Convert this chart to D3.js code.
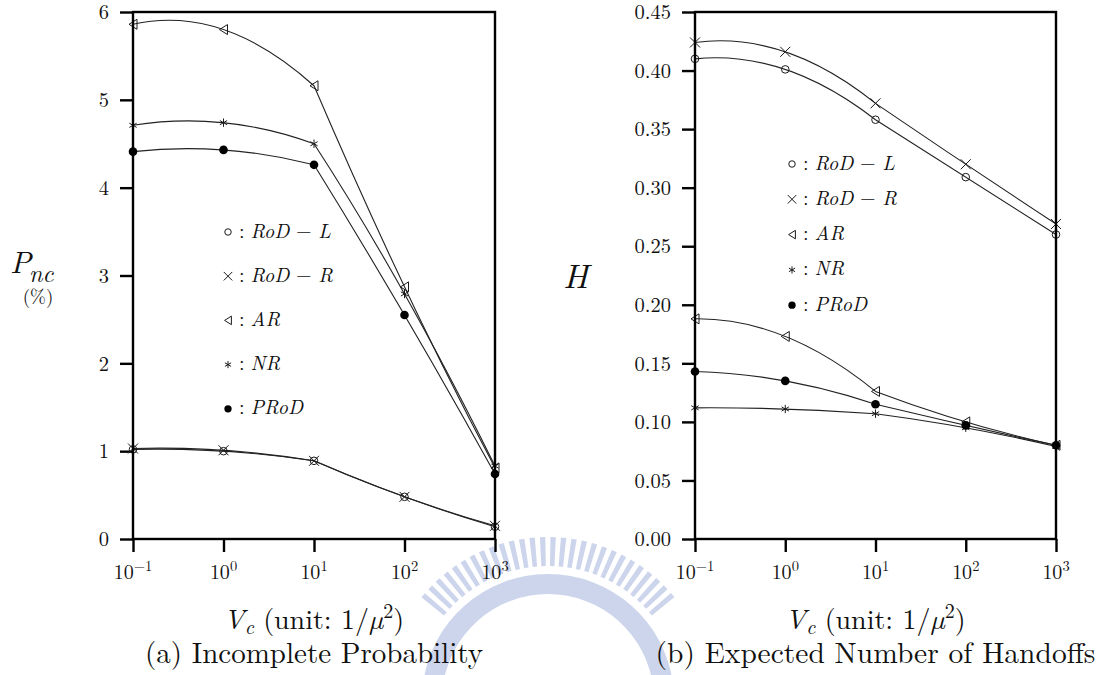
<!DOCTYPE html>
<html>
<head>
<meta charset="utf-8">
<script src="https://cdn.jsdelivr.net/npm/d3@7/dist/d3.min.js"></script>
<style>
  html, body { margin: 0; padding: 0; background: #fff; }
  svg { display: block; }
</style>
</head>
<body>
<svg id="chart" width="1102" height="675"></svg>
<script>
// Velocity-variance settings on the x axis (log scale)
const vc = [0.1, 1, 10, 100, 1000];
const xTickExp = ["\u22121", "0", "1", "2", "3"];

// (a) Incomplete probability P_nc (%)
const pncRodL = [1.02, 1.00, 0.89, 0.48, 0.14];
const pncRodR = [1.03, 1.01, 0.89, 0.48, 0.15];
const pncAR   = [5.86, 5.80, 5.16, 2.87, 0.81];
const pncNR   = [4.71, 4.74, 4.50, 2.79, 0.83];
const pncPRoD = [4.41, 4.43, 4.26, 2.55, 0.74];
const pncTicks = [0, 1, 2, 3, 4, 5, 6];

// (b) Expected number of handoffs H
const hRodL = [0.410, 0.401, 0.358, 0.309, 0.260];
const hRodR = [0.424, 0.416, 0.372, 0.320, 0.269];
const hAR   = [0.188, 0.173, 0.126, 0.100, 0.080];
const hNR   = [0.112, 0.111, 0.107, 0.095, 0.079];
const hPRoD = [0.143, 0.135, 0.115, 0.097, 0.080];
const hTicks = [0, 0.05, 0.10, 0.15, 0.20, 0.25, 0.30, 0.35, 0.40, 0.45];

// Scheme names for the legend: [italic name, optional italic suffix after a minus]
const schemeNames = [["RoD", "L"], ["RoD", "R"], ["AR"], ["NR"], ["PRoD"]];
const schemeMarkers = ["circle", "cross", "triangle", "star", "dot"];

const FONT = '"Latin Modern Roman", "Liberation Serif", serif';
const INK = "#1a1a1a";

const svg = d3.select("#chart");
svg.append("rect").attr("width", 1102).attr("height", 675).attr("fill", "#fff");

// Pale university seal printed behind the captions
const seal = svg.append("g").attr("transform", "translate(548,700)").attr("fill", "#cdd5ec");
const barArc = d3.arc().innerRadius(134).outerRadius(163);
for (let a = -50; a <= 50; a += 3.7) {
  seal.append("path").attr("d", barArc({ startAngle: (a - 0.95) * Math.PI / 180, endAngle: (a + 0.95) * Math.PI / 180 }));
}
seal.append("path").attr("d", d3.arc().innerRadius(106).outerRadius(126)({ startAngle: -1.45, endAngle: 1.45 }));

// Piecewise parabola through consecutive point triples (quadratic Bezier segments)
function QuadThrough(context) { this._context = context; }
QuadThrough.prototype = {
  areaStart() {}, areaEnd() {},
  lineStart() { this._pts = []; },
  point(x, y) { this._pts.push([+x, +y]); },
  lineEnd() {
    const p = this._pts, c = this._context;
    if (!p.length) return;
    c.moveTo(p[0][0], p[0][1]);
    let i = 0;
    while (i + 2 < p.length) {
      const a = p[i], b = p[i + 1], d = p[i + 2];
      c.quadraticCurveTo(2 * b[0] - (a[0] + d[0]) / 2, 2 * b[1] - (a[1] + d[1]) / 2, d[0], d[1]);
      i += 2;
    }
    if (i + 1 < p.length) c.lineTo(p[i + 1][0], p[i + 1][1]);
  }
};
const curveQuad = ctx => new QuadThrough(ctx);

function txt(g, x, y, size) {
  return g.append("text").attr("x", x).attr("y", y)
    .style("font-family", FONT).style("font-size", size + "px").attr("fill", "#111");
}

// Marker glyphs
function drawMarker(g, type, cx, cy, s) {
  const k = s || 1;
  if (type === "circle") {
    g.append("circle").attr("cx", cx).attr("cy", cy).attr("r", 3.8 * k)
      .attr("fill", "none").attr("stroke", INK).attr("stroke-width", 1);
  } else if (type === "cross") {
    const r = 5 * k;
    g.append("path")
      .attr("d", `M${cx - r},${cy - r}L${cx + r},${cy + r}M${cx - r},${cy + r}L${cx + r},${cy - r}`)
      .attr("stroke", INK).attr("stroke-width", 1).attr("fill", "none");
  } else if (type === "triangle") {
    const w = 8 * k, h = 5 * k;
    g.append("path")
      .attr("d", `M${cx - w / 2},${cy}L${cx + w / 2},${cy - h}L${cx + w / 2},${cy + h}Z`)
      .attr("stroke", INK).attr("stroke-width", 1).attr("fill", "none");
  } else if (type === "star") {
    const r = 4.2 * k;
    let d = "";
    for (let i = 0; i < 3; i++) {
      const a = Math.PI / 2 + i * Math.PI / 3;
      d += `M${cx + r * Math.cos(a)},${cy - r * Math.sin(a)}L${cx - r * Math.cos(a)},${cy + r * Math.sin(a)}`;
    }
    g.append("path").attr("d", d).attr("stroke", INK).attr("stroke-width", 1).attr("fill", "none");
  } else if (type === "dot") {
    g.append("circle").attr("cx", cx).attr("cy", cy).attr("r", 4.3 * k).attr("fill", "#000");
  }
}

function drawPanel(cfg) {
  const g = svg.append("g");
  const x = d3.scaleLog().domain([0.1, 1000]).range([cfg.left, cfg.right]);
  const y = d3.scaleLinear().domain([0, cfg.yMax]).range([cfg.bottom, cfg.top]);

  // y axis: outward ticks, labels right-aligned
  const ya = g.append("g").attr("transform", `translate(${cfg.left},0)`)
    .call(d3.axisLeft(y).tickValues(cfg.yTicks).tickSize(13).tickPadding(11)
      .tickFormat(cfg.yFormat));
  ya.select(".domain").remove();
  ya.selectAll(".tick line").attr("stroke", "#000").attr("stroke-width", 2.4);
  ya.selectAll(".tick text").style("font-family", FONT).style("font-size", "20.5px")
    .attr("fill", "#111").attr("dy", "0.33em");

  // x axis: outward ticks
  const xa = g.append("g").attr("transform", `translate(0,${cfg.bottom})`)
    .call(d3.axisBottom(x).tickValues(vc).tickSize(13).tickFormat(""));
  xa.select(".domain").remove();
  xa.selectAll(".tick line").attr("stroke", "#000").attr("stroke-width", 2.4);

  // x tick labels as powers of ten
  vc.forEach((v, i) => {
    const t = txt(g, x(v), cfg.bottom + 40, 20).attr("text-anchor", "middle");
    t.append("tspan").text("10");
    t.append("tspan").style("font-size", "14.5px").attr("dy", -8).text(xTickExp[i]);
  });

  // data curves
  const line = d3.line().x(d => x(d[0])).y(d => y(d[1])).curve(curveQuad);
  cfg.series.forEach(s => {
    const pts = vc.map((v, i) => [v, s.values[i]]);
    g.append("path").datum(pts).attr("d", line)
      .attr("fill", "none").attr("stroke", "#222").attr("stroke-width", 1.1);
  });
  cfg.series.forEach(s => {
    vc.forEach((v, i) => drawMarker(g, s.marker, x(v), y(s.values[i])));
  });

  // frame
  g.append("rect").attr("x", cfg.left).attr("y", cfg.top)
    .attr("width", cfg.right - cfg.left).attr("height", cfg.bottom - cfg.top)
    .attr("fill", "none").attr("stroke", "#000").attr("stroke-width", 2.4);

  // legend
  schemeNames.forEach((nm, i) => {
    const ly = cfg.legY + i * cfg.legStep;
    drawMarker(g, schemeMarkers[i], cfg.legX, ly, 0.85);
    const t = txt(g, cfg.legX + 11, ly + 5.5, 20);
    t.append("tspan").text(":");
    t.append("tspan").attr("dx", 6).style("font-style", "italic").text(nm[0]);
    if (nm.length > 1) {
      t.append("tspan").text(" \u2212 ");
      t.append("tspan").style("font-style", "italic").text(nm[1]);
    }
  });

  // x axis title and caption
  const cx = (cfg.left + cfg.right) / 2;
  const xt = txt(g, cx, 629, 28).attr("text-anchor", "middle");
  xt.append("tspan").style("font-style", "italic").text("V");
  xt.append("tspan").style("font-style", "italic").style("font-size", "20px").attr("dy", 5).text("c");
  xt.append("tspan").attr("dy", -5).text(" (unit: 1/");
  xt.append("tspan").style("font-style", "italic").text("\u00b5");
  xt.append("tspan").style("font-size", "20px").attr("dy", -11).text("2");
  xt.append("tspan").attr("dy", 11).text(")");

  txt(g, cx, 663, cfg.captionSize).attr("text-anchor", "middle").text(cfg.caption);

  cfg.yLabel(g);
}

drawPanel({
  left: 133, right: 495, top: 12, bottom: 539,
  yMax: 6, yTicks: pncTicks, yFormat: d3.format("d"),
  series: [
    { values: pncRodL, marker: "circle" },
    { values: pncRodR, marker: "cross" },
    { values: pncAR, marker: "triangle" },
    { values: pncNR, marker: "star" },
    { values: pncPRoD, marker: "dot" }
  ],
  legX: 228, legY: 232, legStep: 44.2,
  caption: "(a) Incomplete Probability", captionSize: 29,
  yLabel: g => {
    const t = txt(g, 10, 273, 31);
    t.append("tspan").style("font-style", "italic").text("P");
    t.append("tspan").style("font-style", "italic").style("font-size", "24px").attr("dy", 9).attr("dx", -2).text("nc");
    txt(g, 38, 303, 19).attr("text-anchor", "middle").text("(%)");
  }
});

drawPanel({
  left: 695, right: 1056, top: 12, bottom: 539,
  yMax: 0.45, yTicks: hTicks, yFormat: d3.format(".2f"),
  series: [
    { values: hRodL, marker: "circle" },
    { values: hRodR, marker: "cross" },
    { values: hAR, marker: "triangle" },
    { values: hNR, marker: "star" },
    { values: hPRoD, marker: "dot" }
  ],
  legX: 792, legY: 164, legStep: 35.3,
  caption: "(b) Expected Number of Handoffs", captionSize: 29.5,
  yLabel: g => {
    txt(g, 563, 288, 34).style("font-style", "italic").text("H");
  }
});
</script>
</body>
</html>
